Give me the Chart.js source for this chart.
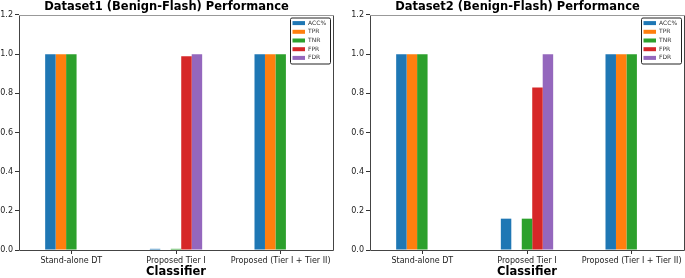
<!DOCTYPE html>
<html>
<head>
<meta charset="utf-8">
<script src="https://cdn.jsdelivr.net/npm/chart.js@4.4.1/dist/chart.umd.min.js"></script>
<style>
  html, body { margin: 0; padding: 0; background: #fff; }
  body { width: 685px; height: 278px; position: relative; overflow: hidden; }
  .box { position: absolute; top: 0; height: 278px; }
  #b1 { left: 0; width: 340px; }
  #b2 { left: 351px; width: 334px; }
</style>
</head>
<body>
<div class="box" id="b1"><canvas id="c1"></canvas></div>
<div class="box" id="b2"><canvas id="c2"></canvas></div>
<script>
const categories = ['Stand-alone DT', 'Proposed Tier I', 'Proposed (Tier I + Tier II)'];
const seriesNames = ['ACC%', 'TPR', 'TNR', 'FPR', 'FDR'];
const seriesColors = ['#1f77b4', '#ff7f0e', '#2ca02c', '#d62728', '#9467bd'];
const yTicks = [0.0, 0.2, 0.4, 0.6, 0.8, 1.0, 1.2];

// Dataset1 (Benign-Flash)
const d1_acc = [1.0, 0.006, 1.0];
const d1_tpr = [1.0, 0.0, 1.0];
const d1_tnr = [1.0, 0.006, 1.0];
const d1_fpr = [0.0, 0.99, 0.0];
const d1_fdr = [0.0, 1.0, 0.0];

// Dataset2 (Benign-Flash)
const d2_acc = [1.0, 0.16, 1.0];
const d2_tpr = [1.0, 0.0, 1.0];
const d2_tnr = [1.0, 0.16, 1.0];
const d2_fpr = [0.0, 0.83, 0.0];
const d2_fdr = [0.0, 1.0, 0.0];

const FONT = 'DejaVu Sans';

const framePlugin = {
  id: 'frame',
  afterDraw(chart) {
    const a = chart.chartArea, ctx = chart.ctx;
    ctx.save();
    ctx.lineWidth = 1;
    ctx.strokeStyle = '#444';
    ctx.beginPath();
    ctx.moveTo(Math.round(a.left) + 0.5, a.top);
    ctx.lineTo(Math.round(a.left) + 0.5, Math.round(a.bottom) + 0.5);
    ctx.lineTo(Math.round(a.right) + 0.5, Math.round(a.bottom) + 0.5);
    ctx.lineTo(Math.round(a.right) + 0.5, a.top);
    ctx.stroke();
    ctx.strokeStyle = '#999';
    ctx.beginPath();
    ctx.moveTo(Math.round(a.left), Math.round(a.top) + 0.5);
    ctx.lineTo(Math.round(a.right) + 1, Math.round(a.top) + 0.5);
    ctx.stroke();
    ctx.restore();
  }
};

const legendPlugin = {
  id: 'innerLegend',
  afterDraw(chart) {
    const a = chart.chartArea, ctx = chart.ctx;
    const ds = chart.data.datasets;
    const w = 40, rowH = 8.7;
    const h = ds.length * rowH + 2.5;
    const x = a.right - 3 - w, y = a.top + 2.5;
    ctx.save();
    ctx.fillStyle = 'rgba(255,255,255,0.9)';
    ctx.strokeStyle = '#222';
    ctx.lineWidth = 1;
    ctx.beginPath();
    if (ctx.roundRect) ctx.roundRect(x + 0.5, y + 0.5, w, h, 1.5); else ctx.rect(x + 0.5, y + 0.5, w, h);
    ctx.fill();
    ctx.stroke();
    ctx.font = '6px "' + FONT + '"';
    ctx.textBaseline = 'middle';
    ctx.textAlign = 'left';
    ds.forEach((d, i) => {
      const cy = y + 5.6 + i * rowH;
      ctx.fillStyle = d.backgroundColor;
      ctx.fillRect(x + 2.5, cy - 2, 12.5, 4);
      ctx.fillStyle = '#333';
      ctx.fillText(d.label, x + 18, cy);
    });
    ctx.restore();
  }
};

function makeChart(id, title, values, padRight) {
  const datasets = seriesNames.map((n, i) => ({
    label: n,
    data: values[i],
    backgroundColor: seriesColors[i],
    borderWidth: 0,
    categoryPercentage: 0.5,
    barPercentage: 1.0
  }));
  return new Chart(document.getElementById(id), {
    type: 'bar',
    data: { labels: categories, datasets },
    options: {
      responsive: true,
      maintainAspectRatio: false,
      animation: false,
      layout: { padding: { left: 0, right: padRight, top: 0, bottom: 0 } },
      plugins: {
        legend: { display: false },
        tooltip: { enabled: false },
        title: {
          display: true,
          text: title,
          color: '#000',
          font: { family: FONT, size: 11.5, weight: 'bold', lineHeight: 1.2 },
          padding: { top: 0.5, bottom: 0.7 }
        }
      },
      scales: {
        x: {
          offset: true,
          grid: { display: true, drawOnChartArea: false, drawTicks: true, tickLength: 4, color: '#333', offset: false },
          border: { display: false },
          ticks: {
            color: '#222', padding: 2, maxRotation: 0, autoSkip: false,
            font: { family: FONT, size: 8 }
          },
          title: {
            display: true, text: 'Classifier', color: '#000',
            font: { family: FONT, size: 11.5, weight: 'bold', lineHeight: 1.0 },
            padding: 0
          },
          afterFit(s) { s.height = 28; }
        },
        y: {
          min: 0, max: 1.2,
          afterBuildTicks(s) { s.ticks = yTicks.map(v => ({ value: v })); },
          grid: { display: true, drawOnChartArea: false, drawTicks: true, tickLength: 4, color: '#333' },
          border: { display: false },
          ticks: {
            color: '#222', padding: 2,
            font: { family: FONT, size: 8 },
            callback: v => Number(v).toFixed(1)
          },
          afterFit(s) { s.width = 19; }
        }
      }
    },
    plugins: [framePlugin, legendPlugin]
  });
}

makeChart('c1', 'Dataset1 (Benign-Flash) Performance', [d1_acc, d1_tpr, d1_tnr, d1_fpr, d1_fdr], 7);
makeChart('c2', 'Dataset2 (Benign-Flash) Performance', [d2_acc, d2_tpr, d2_tnr, d2_fpr, d2_fdr], 1);
</script>
</body>
</html>
